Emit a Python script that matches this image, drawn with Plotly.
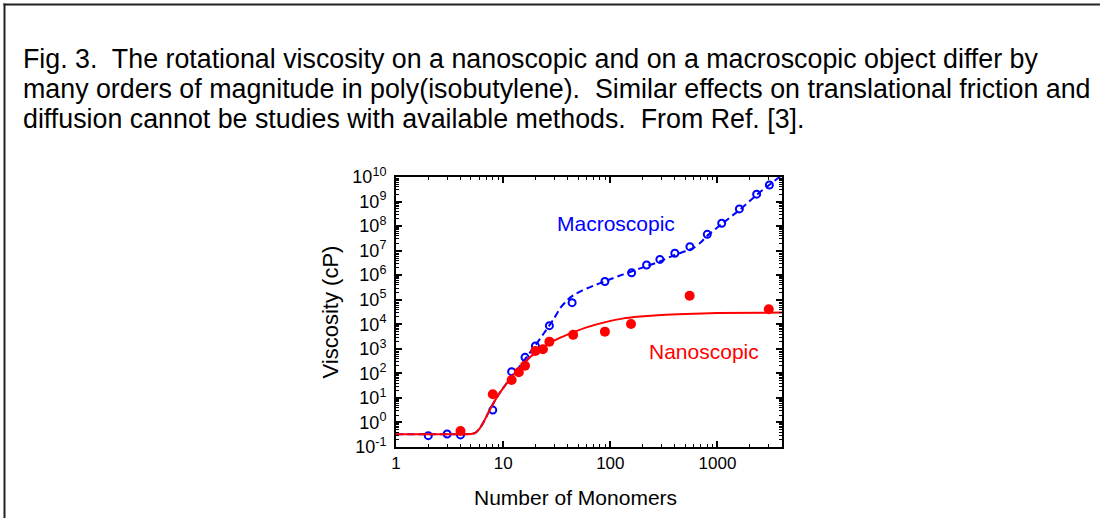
import plotly.graph_objects as go
import math

# ---------------- data ----------------
macro_n = [2, 3, 4, 8, 12, 16, 20, 27, 44, 89, 158, 218, 290, 400, 553, 803, 1095, 1600, 2320, 3050]
macro_eta = [0.29, 0.34, 0.31, 3.2, 117, 450, 1300, 8800, 76000, 5.5e5, 1.26e6, 2.6e6,
             4.4e6, 7.8e6, 1.45e7, 4.6e7, 1.3e8, 5e8, 2e9, 4.7e9]

nano_n = [4, 8, 12, 14, 16, 20, 23.5, 27, 45, 89, 156, 550, 3010]
nano_eta = [0.45, 14, 54, 111, 205, 820, 960, 1960, 3700, 5000, 10300, 1.46e5, 4.1e4]

nano_fit_n = [1, 2, 4, 5, 5.5, 6, 6.5, 7, 8, 9, 10, 12, 14, 16, 20, 27, 35, 45, 60, 92,
              130, 190, 300, 500, 1000, 4000]
nano_fit_eta = [0.33, 0.33, 0.33, 0.34, 0.38, 0.55, 0.95, 1.8, 5.5, 13, 25, 70, 150, 290,
                700, 1700, 3000, 4700, 7500, 12500, 17000, 20500, 24000, 26500, 28500, 30000]

macro_fit_n = [1, 2, 4, 5, 5.5, 6, 6.5, 7, 8, 9, 10, 12, 14, 16, 20, 24, 27, 30, 34, 40,
               45, 55, 64, 92, 130, 190, 290, 386, 500, 600, 700, 800, 1140, 1620, 2330, 4000]
macro_fit_eta = [0.33, 0.33, 0.33, 0.34, 0.38, 0.55, 0.95, 1.8, 5.5, 13, 25, 75, 170, 380,
                 1400, 4300, 9000, 18000, 45000, 100000, 150000, 240000, 320000, 600000,
                 1.05e6, 1.9e6, 3.6e6, 6.3e6, 9.4e6, 1.3e7, 2.2e7, 4e7, 1.4e8, 4.7e8,
                 1.9e9, 1.2e10]

x_tickvals = [1, 10, 100, 1000]
x_ticktext = ["1", "10", "100", "1000"]
y_exponents = list(range(-1, 11))

x_title = "Number of Monomers"
y_title = "Viscosity (cP)"
caption_lines = [
    "Fig. 3.  The rotational viscosity on a nanoscopic and on a macroscopic object differ by",
    "many orders of magnitude in poly(isobutylene).  Similar effects on translational friction and",
    "diffusion cannot be studies with available methods.  From Ref. [3].",
]

# ---------------- layout geometry ----------------
W, H = 1100, 518
L, R, T, B = 396, 782, 177, 447   # plot frame in pixels
pw, ph = R - L, B - T

def px(x):
    return (x - L) / pw

def py(y):
    return (B - y) / ph

FONT = "Liberation Sans, Arial, sans-serif"
BLUE = "#0000ff"
RED = "#ff0000"

fig = go.Figure()

fig.add_trace(go.Scatter(x=macro_fit_n, y=macro_fit_eta, mode="lines",
                         line=dict(color=BLUE, width=2, dash="7px,4px", shape="spline", smoothing=0.6),
                         hoverinfo="skip", showlegend=False))
fig.add_trace(go.Scatter(x=macro_n, y=macro_eta, mode="markers",
                         marker=dict(symbol="circle-open", size=7, color=BLUE, line=dict(width=2, color=BLUE)),
                         showlegend=False))
fig.add_trace(go.Scatter(x=nano_n, y=nano_eta, mode="markers",
                         marker=dict(symbol="circle", size=10, color=RED),
                         showlegend=False))
fig.add_trace(go.Scatter(x=nano_fit_n, y=nano_fit_eta, mode="lines",
                         line=dict(color=RED, width=2, shape="spline", smoothing=0.6),
                         hoverinfo="skip", showlegend=False))

axis_common = dict(showline=True, linecolor="black", linewidth=2, mirror="allticks",
                   ticks="inside", ticklen=6, tickwidth=1.5, tickcolor="black",
                   showgrid=False, zeroline=False,
                   minor=dict(ticks="inside", ticklen=3, tickwidth=1, tickcolor="black",
                              dtick="D1", showgrid=False))

fig.update_xaxes(type="log", range=[0, math.log10(4000)],
                 tickvals=x_tickvals, ticktext=x_ticktext,
                 tickfont=dict(family=FONT, size=17, color="black"),
                 **axis_common)
fig.update_yaxes(type="log", range=[-1, 10],
                 tickvals=[10 ** e for e in y_exponents],
                 ticktext=[f"10<sup>{e}</sup>" for e in y_exponents],
                 tickfont=dict(family=FONT, size=18, color="black"),
                 ticklabelstandoff=4,
                 title=dict(text=y_title, font=dict(family=FONT, size=22, color="black"),
                            standoff=8),
                 **axis_common)

annotations = [
    dict(text="Macroscopic", x=px(616), y=py(223), xref="paper", yref="paper",
         showarrow=False, font=dict(family=FONT, size=21, color=BLUE), xanchor="center", yanchor="middle"),
    dict(text="Nanoscopic", x=px(704), y=py(351), xref="paper", yref="paper",
         showarrow=False, font=dict(family=FONT, size=21, color=RED), xanchor="center", yanchor="middle"),
    dict(text=x_title, x=px(575), y=py(497), xref="paper", yref="paper",
         showarrow=False, font=dict(family=FONT, size=21, color="black"), xanchor="center", yanchor="middle"),
]
for line, yc in zip(caption_lines, [59, 89, 119]):
    annotations.append(dict(text=line, x=px(21), y=py(yc), xref="paper", yref="paper",
                            showarrow=False, xanchor="left", yanchor="middle", align="left",
                            font=dict(family=FONT, size=26.8, color="black")))

shapes = [
    dict(type="line", xref="paper", yref="paper", x0=px(3.5), x1=px(1100), y0=py(4.5), y1=py(4.5),
         line=dict(color="#222222", width=2)),
    dict(type="line", xref="paper", yref="paper", x0=px(4.5), x1=px(4.5), y0=py(3.5), y1=py(518),
         line=dict(color="#222222", width=2)),
]

fig.update_layout(width=W, height=H, margin=dict(l=L, r=W - R, t=T, b=H - B),
                  paper_bgcolor="white", plot_bgcolor="white",
                  annotations=annotations, shapes=shapes, showlegend=False,
                  font=dict(family=FONT))

fig.write_html("out.html")
